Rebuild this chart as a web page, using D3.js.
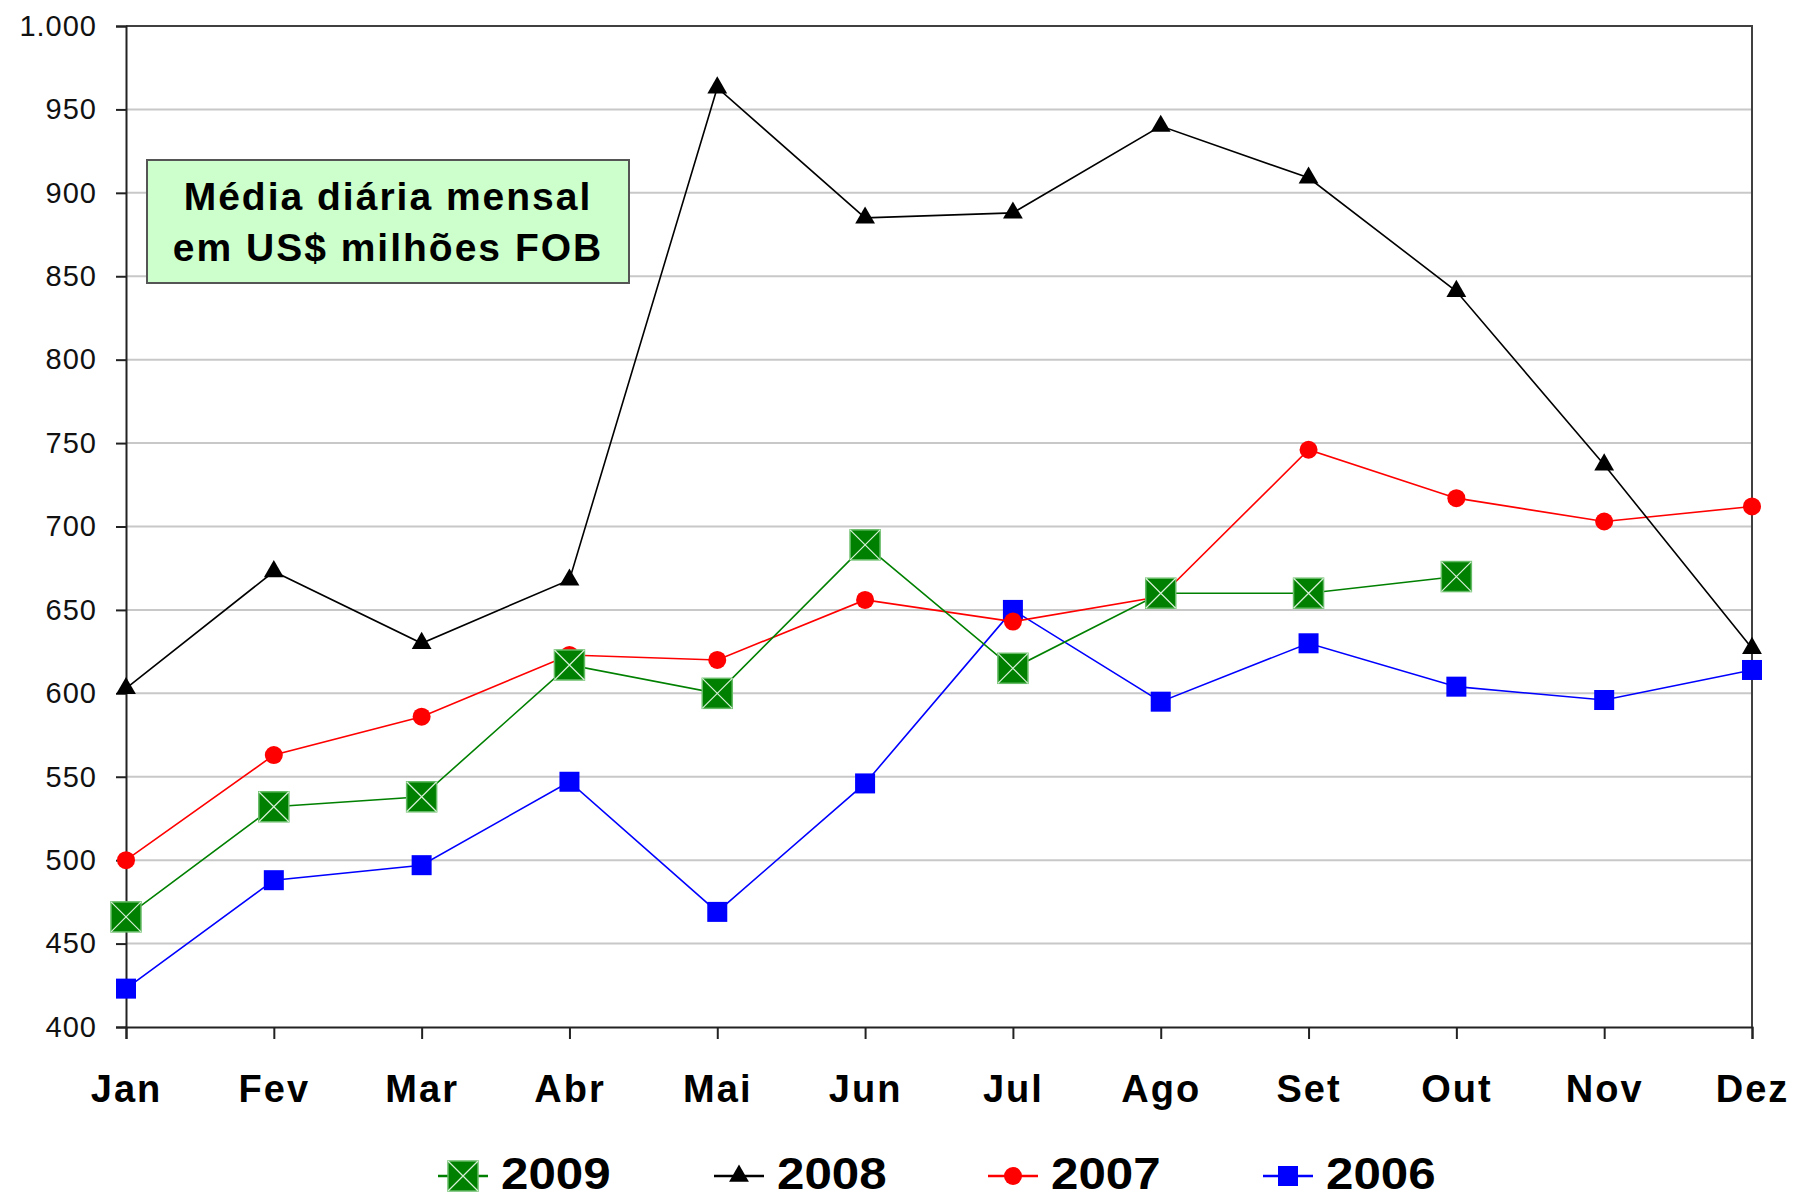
<!DOCTYPE html>
<html>
<head>
<meta charset="utf-8">
<script src="https://cdn.jsdelivr.net/npm/d3@7"></script>
<style>
  body { margin: 0; background: #fff; }
  text { font-family: Arial, "Liberation Sans", sans-serif; }
</style>
</head>
<body>
<div id="chart"></div>
<script>
// months and values (US$ millions FOB, daily average)
var months = ["Jan", "Fev", "Mar", "Abr", "Mai", "Jun", "Jul", "Ago", "Set", "Out", "Nov", "Dez"];
var yTicks = [400, 450, 500, 550, 600, 650, 700, 750, 800, 850, 900, 950, 1000];
var v2009 = [466, 532, 538, 617, 600, 689, 615, 660, 660, 670];
var v2008 = [603, 673, 630, 668, 963, 885, 888, 940, 909, 841, 737, 627];
var v2007 = [500, 563, 586, 623, 620, 656, 643, 658, 746, 717, 703, 712];
var v2006 = [423, 488, 497, 547, 469, 546, 650, 595, 630, 604, 596, 614];

var svgWidth = 1795, svgHeight = 1198;
var margin = { top: 26, left: 126, right: 43, bottom: 171 };
var chartWidth = svgWidth - margin.left - margin.right;
var chartHeight = svgHeight - margin.top - margin.bottom;

var svg = d3.select("#chart").append("svg")
    .attr("width", svgWidth)
    .attr("height", svgHeight);

var chartGroup = svg.append("g")
    .attr("transform", `translate(${margin.left}, ${margin.top})`);

var x = d3.scalePoint().domain(months).range([0, chartWidth]);
var y = d3.scaleLinear().domain([400, 1000]).range([chartHeight, 0]);

var ptBR = d3.formatLocale({ decimal: ",", thousands: ".", grouping: [3], currency: ["", ""] });
var fmt = ptBR.format(",");

// grid lines
chartGroup.append("g").selectAll("line")
    .data(yTicks.filter(d => d > 400 && d < 1000))
    .enter().append("line")
    .attr("x1", 0).attr("x2", chartWidth)
    .attr("y1", d => y(d)).attr("y2", d => y(d))
    .attr("stroke", "#c8c8c8")
    .attr("stroke-width", 2);

// top / right border
chartGroup.append("path")
    .attr("d", `M0,0H${chartWidth}V${chartHeight}`)
    .attr("fill", "none")
    .attr("stroke", "#404040")
    .attr("stroke-width", 2);

// axes
var leftAxis = d3.axisLeft(y).tickValues(yTicks).tickFormat(fmt).tickSize(10).tickPadding(19);
var bottomAxis = d3.axisBottom(x).tickSize(12).tickPadding(36);

var yAxis = chartGroup.append("g").call(leftAxis);
yAxis.select(".domain").attr("stroke", "#222").attr("stroke-width", 2);
yAxis.selectAll(".tick line").attr("stroke", "#222").attr("stroke-width", 2);
yAxis.selectAll("text").attr("font-size", 29).attr("fill", "#111").attr("letter-spacing", 1);

var xAxis = chartGroup.append("g")
    .attr("transform", `translate(0, ${chartHeight})`)
    .call(bottomAxis);
xAxis.select(".domain").attr("stroke", "#222").attr("stroke-width", 2);
xAxis.selectAll(".tick line").attr("stroke", "#222").attr("stroke-width", 2);
xAxis.selectAll("text").attr("font-size", 38).attr("font-weight", "bold")
    .attr("fill", "#000").attr("letter-spacing", 2);

// markers
function drawMarker(g, type, cx, cy) {
  if (type === "xsquare") {
    var s = 15;
    g.append("rect").attr("x", cx - s).attr("y", cy - s).attr("width", 2 * s).attr("height", 2 * s)
      .attr("fill", "#008000").attr("stroke", "#66bb66").attr("stroke-width", 1.5);
    g.append("path").attr("d", `M${cx - s},${cy - s}L${cx + s},${cy + s}M${cx + s},${cy - s}L${cx - s},${cy + s}`)
      .attr("stroke", "#d8f0d8").attr("stroke-width", 1.2);
  } else if (type === "triangle") {
    g.append("path").attr("d", d3.symbol().type(d3.symbolTriangle).size(170)())
      .attr("transform", `translate(${cx}, ${cy})`).attr("fill", "#000");
  } else if (type === "circle") {
    g.append("circle").attr("cx", cx).attr("cy", cy).attr("r", 9).attr("fill", "#ff0000");
  } else if (type === "square") {
    g.append("rect").attr("x", cx - 10).attr("y", cy - 10).attr("width", 20).attr("height", 20)
      .attr("fill", "#0000ff");
  }
}

var series = [
  { name: "2006", values: v2006, color: "#0000ff", marker: "square" },
  { name: "2007", values: v2007, color: "#ff0000", marker: "circle" },
  { name: "2009", values: v2009, color: "#008000", marker: "xsquare" },
  { name: "2008", values: v2008, color: "#000000", marker: "triangle" }
];

var line = d3.line()
    .x((d, i) => x(months[i]))
    .y(d => y(d));

series.forEach(function(s) {
  var g = chartGroup.append("g");
  g.append("path")
    .datum(s.values)
    .attr("d", line)
    .attr("fill", "none")
    .attr("stroke", s.color)
    .attr("stroke-width", 1.6);
  s.values.forEach(function(v, i) {
    drawMarker(g, s.marker, x(months[i]), y(v));
  });
});

// annotation box
var box = svg.append("g").attr("transform", "translate(147, 160)");
box.append("rect").attr("width", 482).attr("height", 123)
    .attr("fill", "#ccffcc").attr("stroke", "#555").attr("stroke-width", 2);
box.append("text").attr("x", 241).attr("y", 50).attr("text-anchor", "middle")
    .attr("font-size", 39).attr("font-weight", "bold").attr("letter-spacing", 2)
    .text("Média diária mensal");
box.append("text").attr("x", 241).attr("y", 101).attr("text-anchor", "middle")
    .attr("font-size", 39).attr("font-weight", "bold").attr("letter-spacing", 2)
    .text("em US$ milhões FOB");

// legend
var legendItems = [
  { name: "2009", color: "#008000", marker: "xsquare", cx: 463 },
  { name: "2008", color: "#000000", marker: "triangle", cx: 739 },
  { name: "2007", color: "#ff0000", marker: "circle", cx: 1013 },
  { name: "2006", color: "#0000ff", marker: "square", cx: 1288 }
];
var legend = svg.append("g");
legendItems.forEach(function(it) {
  var ly = 1176;
  legend.append("line").attr("x1", it.cx - 25).attr("x2", it.cx + 25)
    .attr("y1", ly).attr("y2", ly).attr("stroke", it.color).attr("stroke-width", 2.5);
  drawMarker(legend, it.marker, it.cx, ly);
  legend.append("text")
    .attr("transform", `translate(${it.cx + 38}, ${ly + 13}) scale(1.12, 1)`)
    .attr("font-size", 44).attr("font-weight", "bold").text(it.name);
});
</script>
</body>
</html>
